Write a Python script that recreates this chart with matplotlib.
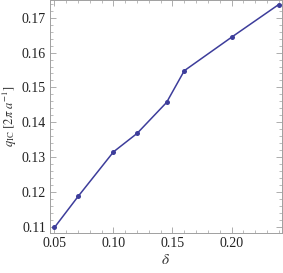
import matplotlib.pyplot as plt
from matplotlib.ticker import MultipleLocator

# values
delta = [0.05, 0.07, 0.10, 0.12, 0.145, 0.16, 0.20, 0.24]
q_ic = [0.1098, 0.1187, 0.1315, 0.1368, 0.1457, 0.1548, 0.1644, 0.1738]

LINE_COLOR = "#3d3d9b"
FRAME_COLOR = "#a0a0a0"

plt.rcParams["font.family"] = ["Liberation Serif", "DejaVu Serif"]
plt.rcParams["mathtext.fontset"] = "stix"

fig = plt.figure(figsize=(2.83, 2.73), dpi=100)
ax = fig.add_axes([0.1767, 0.1465, 0.8198, 0.8535])

ax.plot(delta, q_ic, color=LINE_COLOR, linewidth=1.1, marker="o",
        markersize=3.6, markerfacecolor=LINE_COLOR, markeredgewidth=0)

ax.set_xlim(0.0462, 0.2428)
ax.set_ylim(0.1082, 0.1751)
ax.xaxis.set_major_locator(MultipleLocator(0.05))
ax.xaxis.set_minor_locator(MultipleLocator(0.01))
ax.yaxis.set_major_locator(MultipleLocator(0.01))
ax.yaxis.set_minor_locator(MultipleLocator(0.002))
ax.xaxis.set_major_formatter(lambda v, p: f"{v:.2f}")
ax.yaxis.set_major_formatter(lambda v, p: f"{v:.2f}")

ax.tick_params(which="both", direction="in", top=True, right=True,
               color=FRAME_COLOR, labelsize=10, labelcolor="#222222")
ax.tick_params(which="major", length=4, width=0.6, pad=3)
ax.tick_params(which="minor", length=2, width=0.5)
for spine in ax.spines.values():
    spine.set_color(FRAME_COLOR)
    spine.set_linewidth(0.7)

ax.set_xlabel(r"$\delta$", fontsize=11, color="#333333", labelpad=2)
ax.set_ylabel(r"$q_{\mathrm{IC}}\ [2\pi\ a^{-1}]$", fontsize=9,
              color="#333333")
ax.yaxis.set_label_coords(-0.135, 0.5)

fig.savefig("out.png", dpi=100)
